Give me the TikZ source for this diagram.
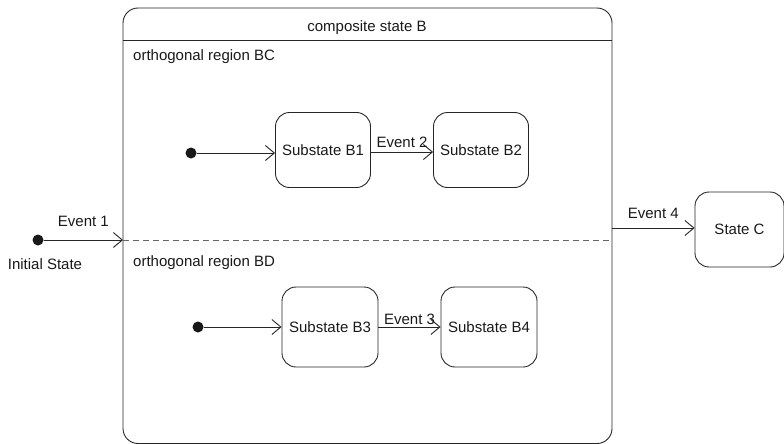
\documentclass[tikz,border=0pt]{standalone}
\usepackage{fontspec}
\setmainfont{Liberation Sans}
\usetikzlibrary{arrows.meta}
\begin{document}
\begin{tikzpicture}[x=1pt,y=-1pt,
  every node/.style={font=\fontsize{15}{17}\selectfont, text=black!90},
  line/.style={draw=black!85, line width=0.9pt},
  trans/.style={line, -{Straight Barb[length=9pt,width=15pt,line width=0.9pt]}},
  statebox/.style={line, rounded corners=14pt, minimum width=#1, minimum height=75pt, inner sep=0pt},
  initdot/.style={circle, fill=black!90, minimum size=11pt, inner sep=0pt},
  lbl/.style={inner sep=1pt}]
\useasboundingbox (0,0) rectangle (784,444);
% composite state
\draw[line, rounded corners=15pt] (123,8) rectangle (612,443.5);
\node[lbl] (title) at (367,28) {composite state B};
\coordinate (tl) at (123,40);
\coordinate (tr) at (612,40);
\draw[line] (tl) -- (tr);
\coordinate (dl) at (123,240);
\coordinate (dr) at (612,240);
\draw[line, draw=black!60, dash pattern=on 6pt off 4pt, line width=0.7pt] (dl) -- (dr);
\node[lbl, anchor=west] (rbc) at (132,57) {orthogonal region BC};
\node[lbl, anchor=west] (rbd) at (132,263) {orthogonal region BD};
% outer initial
\node[initdot] (i0) at (38,240) {};
\node[lbl] (il) at (45,264) {Initial State};
\draw[trans] (i0) -- (dl) node[midway, above=12pt, lbl] (e1) {Event 1};
% region BC
\node[initdot] (i1) at (191,153) {};
\node[statebox=95pt] (b1) at (323,150) {Substate B1};
\node[statebox=95pt] (b2) at (481,150) {Substate B2};
\draw[trans] (i1) -- (i1 -| b1.west);
\draw[trans] (b1.east |- 0,152) coordinate (b1o) -- (b2.west |- b1o) node[midway, above=3pt, lbl] (e2) {Event 2};
% region BD
\node[initdot] (i2) at (198,327) {};
\node[statebox=96pt, minimum height=80pt] (b3) at (330,327) {Substate B3};
\node[statebox=96pt, minimum height=80pt] (b4) at (489,327) {Substate B4};
\draw[trans] (i2) -- (b3.west);
\draw[trans] (b3.east) -- (b4.west) node[midway, above=1pt, lbl] (e3) {Event 3};
% state C
\node[statebox=89pt] (c) at (739.5,229.5) {State C};
\coordinate (co) at (612,228);
\draw[trans] (co) -- (c.west |- co) node[midway, above=8pt, lbl] (e4) {Event 4};
\end{tikzpicture}
\end{document}
